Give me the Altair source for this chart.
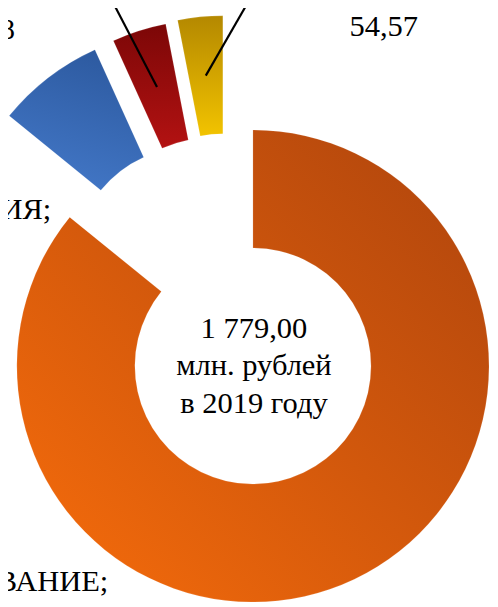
import altair as alt
import pandas as pd

# ---- data ----
slice_names = ["ОБРАЗОВАНИЕ", "КУЛЬТУРА, КИНЕМАТОГРАФИЯ", "СОЦИАЛЬНАЯ ПОЛИТИКА", "ФИЗИЧЕСКАЯ КУЛЬТУРА И СПОРТ"]
slice_values = [1527.43, 131.00, 66.00, 54.57]
center_lines = ["1 779,00", "млн. рублей", "в 2019 году"]
# label fragments visible at the picture's edges
edge_fragments = ["1,", "8", "ИЯ;", "ВАНИЕ;"]

df = pd.DataFrame({"name": slice_names, "value": slice_values, "idx": list(range(len(slice_names)))})

# ---- style ----
W, H = 490, 599
CX, CY = 249, 359
R_OUT, R_IN = 240, 120
EXPLODE = 120
GROUP_DIR = 5.864  # radians, common direction blended with each slice's bisector
FONT = "'Times New Roman', 'Liberation Serif', 'DejaVu Serif', serif"
FS = 31

fills = [
    alt.Gradient(gradient="linear", x1=1, y1=0, x2=0, y2=1,
                 stops=[alt.GradientStop(offset=0, color="#AE440D"),
                        alt.GradientStop(offset=0.5, color="#D2580C"),
                        alt.GradientStop(offset=1, color="#F86D0B")]),
    alt.Gradient(gradient="linear", x1=0.6, y1=0, x2=0.3, y2=1,
                 stops=[alt.GradientStop(offset=0, color="#2D5AA0"),
                        alt.GradientStop(offset=1, color="#4378C8")]),
    alt.Gradient(gradient="linear", x1=0.5, y1=0, x2=0.5, y2=1,
                 stops=[alt.GradientStop(offset=0, color="#7C0707"),
                        alt.GradientStop(offset=1, color="#B31212")]),
    alt.Gradient(gradient="linear", x1=0.5, y1=0, x2=0.5, y2=1,
                 stops=[alt.GradientStop(offset=0, color="#B48800"),
                        alt.GradientStop(offset=1, color="#F2C300")]),
]

base = (
    alt.Chart(df)
    .transform_joinaggregate(total="sum(value)")
    .transform_window(cum="sum(value)", sort=[alt.SortField("idx")], frame=[None, 0])
    .transform_calculate(
        start="(datum.cum - datum.value) / datum.total * 2 * PI",
        end="datum.cum / datum.total * 2 * PI",
    )
    .transform_calculate(
        mid="(datum.start + datum.end) / 2",
        ex=f"datum.idx > 0 ? {EXPLODE} : 0",
    )
    .transform_calculate(dir=f"datum.idx > 0 ? 0.5 * datum.mid + 0.5 * {GROUP_DIR} : datum.mid")
    .transform_calculate(
        px=f"{CX} + datum.ex * sin(datum.dir)",
        py=f"{CY} - datum.ex * cos(datum.dir)",
    )
    .transform_calculate(
        sx=f"datum.px + {(R_OUT + R_IN) / 2} * sin(datum.mid)",
        sy=f"datum.py - {(R_OUT + R_IN) / 2} * cos(datum.mid)",
        label="replace(format(datum.value, '.2f'), '.', ',')",
    )
)

arcs = []
for i, f in enumerate(fills):
    arcs.append(
        base.transform_filter(f"datum.idx == {i}")
        .mark_arc(radius=R_OUT, innerRadius=R_IN, fill=f, stroke="#ffffff", strokeOpacity=0.15, strokeWidth=1)
        .encode(
            x=alt.X("px:Q", scale=None, axis=None),
            y=alt.Y("py:Q", scale=None, axis=None),
            theta=alt.Theta("start:Q", scale=None),
            theta2=alt.Theta2("end:Q"),
        )
    )

leaders = (
    base.transform_filter("datum.idx >= 2")
    .transform_calculate(
        ly2="-20",
        lx2="datum.sx + (datum.idx == 2 ? -0.52 : 0.575) * (datum.sy + 20)",
    )
    .mark_rule(color="black", strokeWidth=2.2)
    .encode(
        x=alt.X("sx:Q", scale=None, axis=None),
        y=alt.Y("sy:Q", scale=None, axis=None),
        x2="lx2:Q",
        y2="ly2:Q",
    )
)

gold_value = (
    base.transform_filter("datum.idx == 3")
    .mark_text(font=FONT, fontSize=FS, color="black", align="center", baseline="alphabetic")
    .encode(x=alt.value(382), y=alt.value(23), text="label:N")
)

center_text = (
    alt.Chart(pd.DataFrame({"t": [center_lines]}))
    .mark_text(font=FONT, fontSize=FS, color="black", align="center", baseline="alphabetic", lineHeight=38.5)
    .encode(x=alt.value(CX + 1), y=alt.value(330), text="t")
)

frag_pos = [(19, -5), (7, 27), (44, 210), (102, 588)]
frags = []
for txt, (fx, fy) in zip(edge_fragments, frag_pos):
    frags.append(
        alt.Chart(pd.DataFrame({"t": [txt]}))
        .mark_text(font=FONT, fontSize=FS, color="black", align="right", baseline="alphabetic", clip=True)
        .encode(x=alt.value(fx), y=alt.value(fy), text="t:N")
    )

chart = (
    alt.layer(*arcs, leaders, gold_value, center_text, *frags)
    .properties(width=W, height=H, autosize=alt.AutoSizeParams(type="none"), padding=0)
    .configure_view(stroke=None)
)

chart.save("out.html", embed_options={"renderer": "svg", "actions": False})
